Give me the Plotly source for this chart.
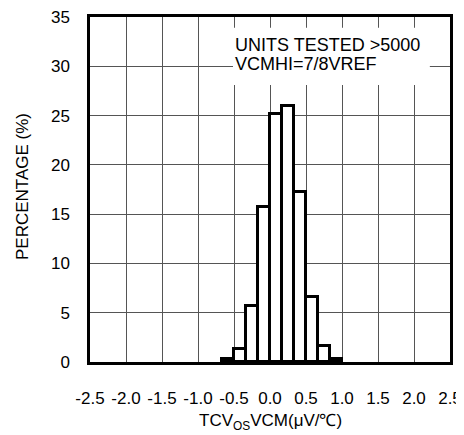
import plotly.graph_objects as go

# histogram of TCVos (bin width 1/6 uV/C)
bin_centers = [-0.583, -0.417, -0.25, -0.083, 0.083, 0.25, 0.417, 0.583, 0.75, 0.917]
percentages = [0.3, 1.3, 5.7, 15.7, 25.2, 26.0, 17.2, 6.6, 1.6, 0.3]
bin_width = 1 / 6

x_ticks = [-2.5, -2.0, -1.5, -1.0, -0.5, 0.0, 0.5, 1.0, 1.5, 2.0, 2.5]
y_ticks = [0, 5, 10, 15, 20, 25, 30, 35]

note_lines = ["UNITS TESTED >5000", "VCMHI=7/8VREF"]

font = "Arial, Liberation Sans, sans-serif"

fig = go.Figure()

fig.add_trace(go.Bar(
    x=bin_centers, y=percentages,
    width=bin_width,
    marker=dict(color="white", line=dict(color="black", width=3)),
    showlegend=False
))

# white box behind the note so the grid is hidden there
fig.add_shape(
    type="rect", xref="x", yref="y",
    x0=-0.514, x1=2.22, y0=28.1, y1=33.9,
    fillcolor="white", line=dict(width=0), layer="above"
)
for txt, yy in zip(note_lines, [32.18, 30.23]):
    fig.add_annotation(
        x=-0.514, y=yy, xref="x", yref="y",
        xanchor="left", yanchor="middle",
        text=txt, showarrow=False,
        font=dict(family=font, size=18, color="black")
    )

# axis titles
fig.add_annotation(
    x=-0.189, y=0.51, xref="paper", yref="paper",
    xanchor="center", yanchor="middle",
    text="PERCENTAGE (%)", textangle=-90, showarrow=False,
    font=dict(family=font, size=17, color="black")
)
fig.add_annotation(
    x=0.5, y=-0.174, xref="paper", yref="paper",
    xanchor="center", yanchor="middle",
    text="TCV<sub>OS</sub>VCM(\u03bcV/\u2103)", showarrow=False,
    font=dict(family=font, size=17, color="black")
)

fig.update_xaxes(
    range=[-2.5, 2.5], tickvals=x_ticks, ticktext=["%.1f" % v for v in x_ticks],
    showgrid=True, gridcolor="#555", gridwidth=1,
    showline=True, linecolor="black", linewidth=2.5, mirror=True,
    ticks="", ticklabelstandoff=19, zeroline=False, automargin=False,
    ticklabeloverflow="allow",
    tickfont=dict(family=font, size=17, color="black")
)
fig.update_yaxes(
    range=[0, 35], tickvals=y_ticks,
    showgrid=True, gridcolor="#555", gridwidth=1,
    showline=True, linecolor="black", linewidth=2.5, mirror=True,
    ticks="", ticklabelstandoff=14, zeroline=False, automargin=False,
    ticklabeloverflow="allow",
    tickfont=dict(family=font, size=17, color="black")
)

# page body adds an 8px offset, so margins are shifted by 8px
fig.update_layout(
    width=464, height=427,
    margin=dict(l=82, r=22, t=9, b=73),
    plot_bgcolor="white", paper_bgcolor="white",
    bargap=0
)

fig.write_html("out.html")
